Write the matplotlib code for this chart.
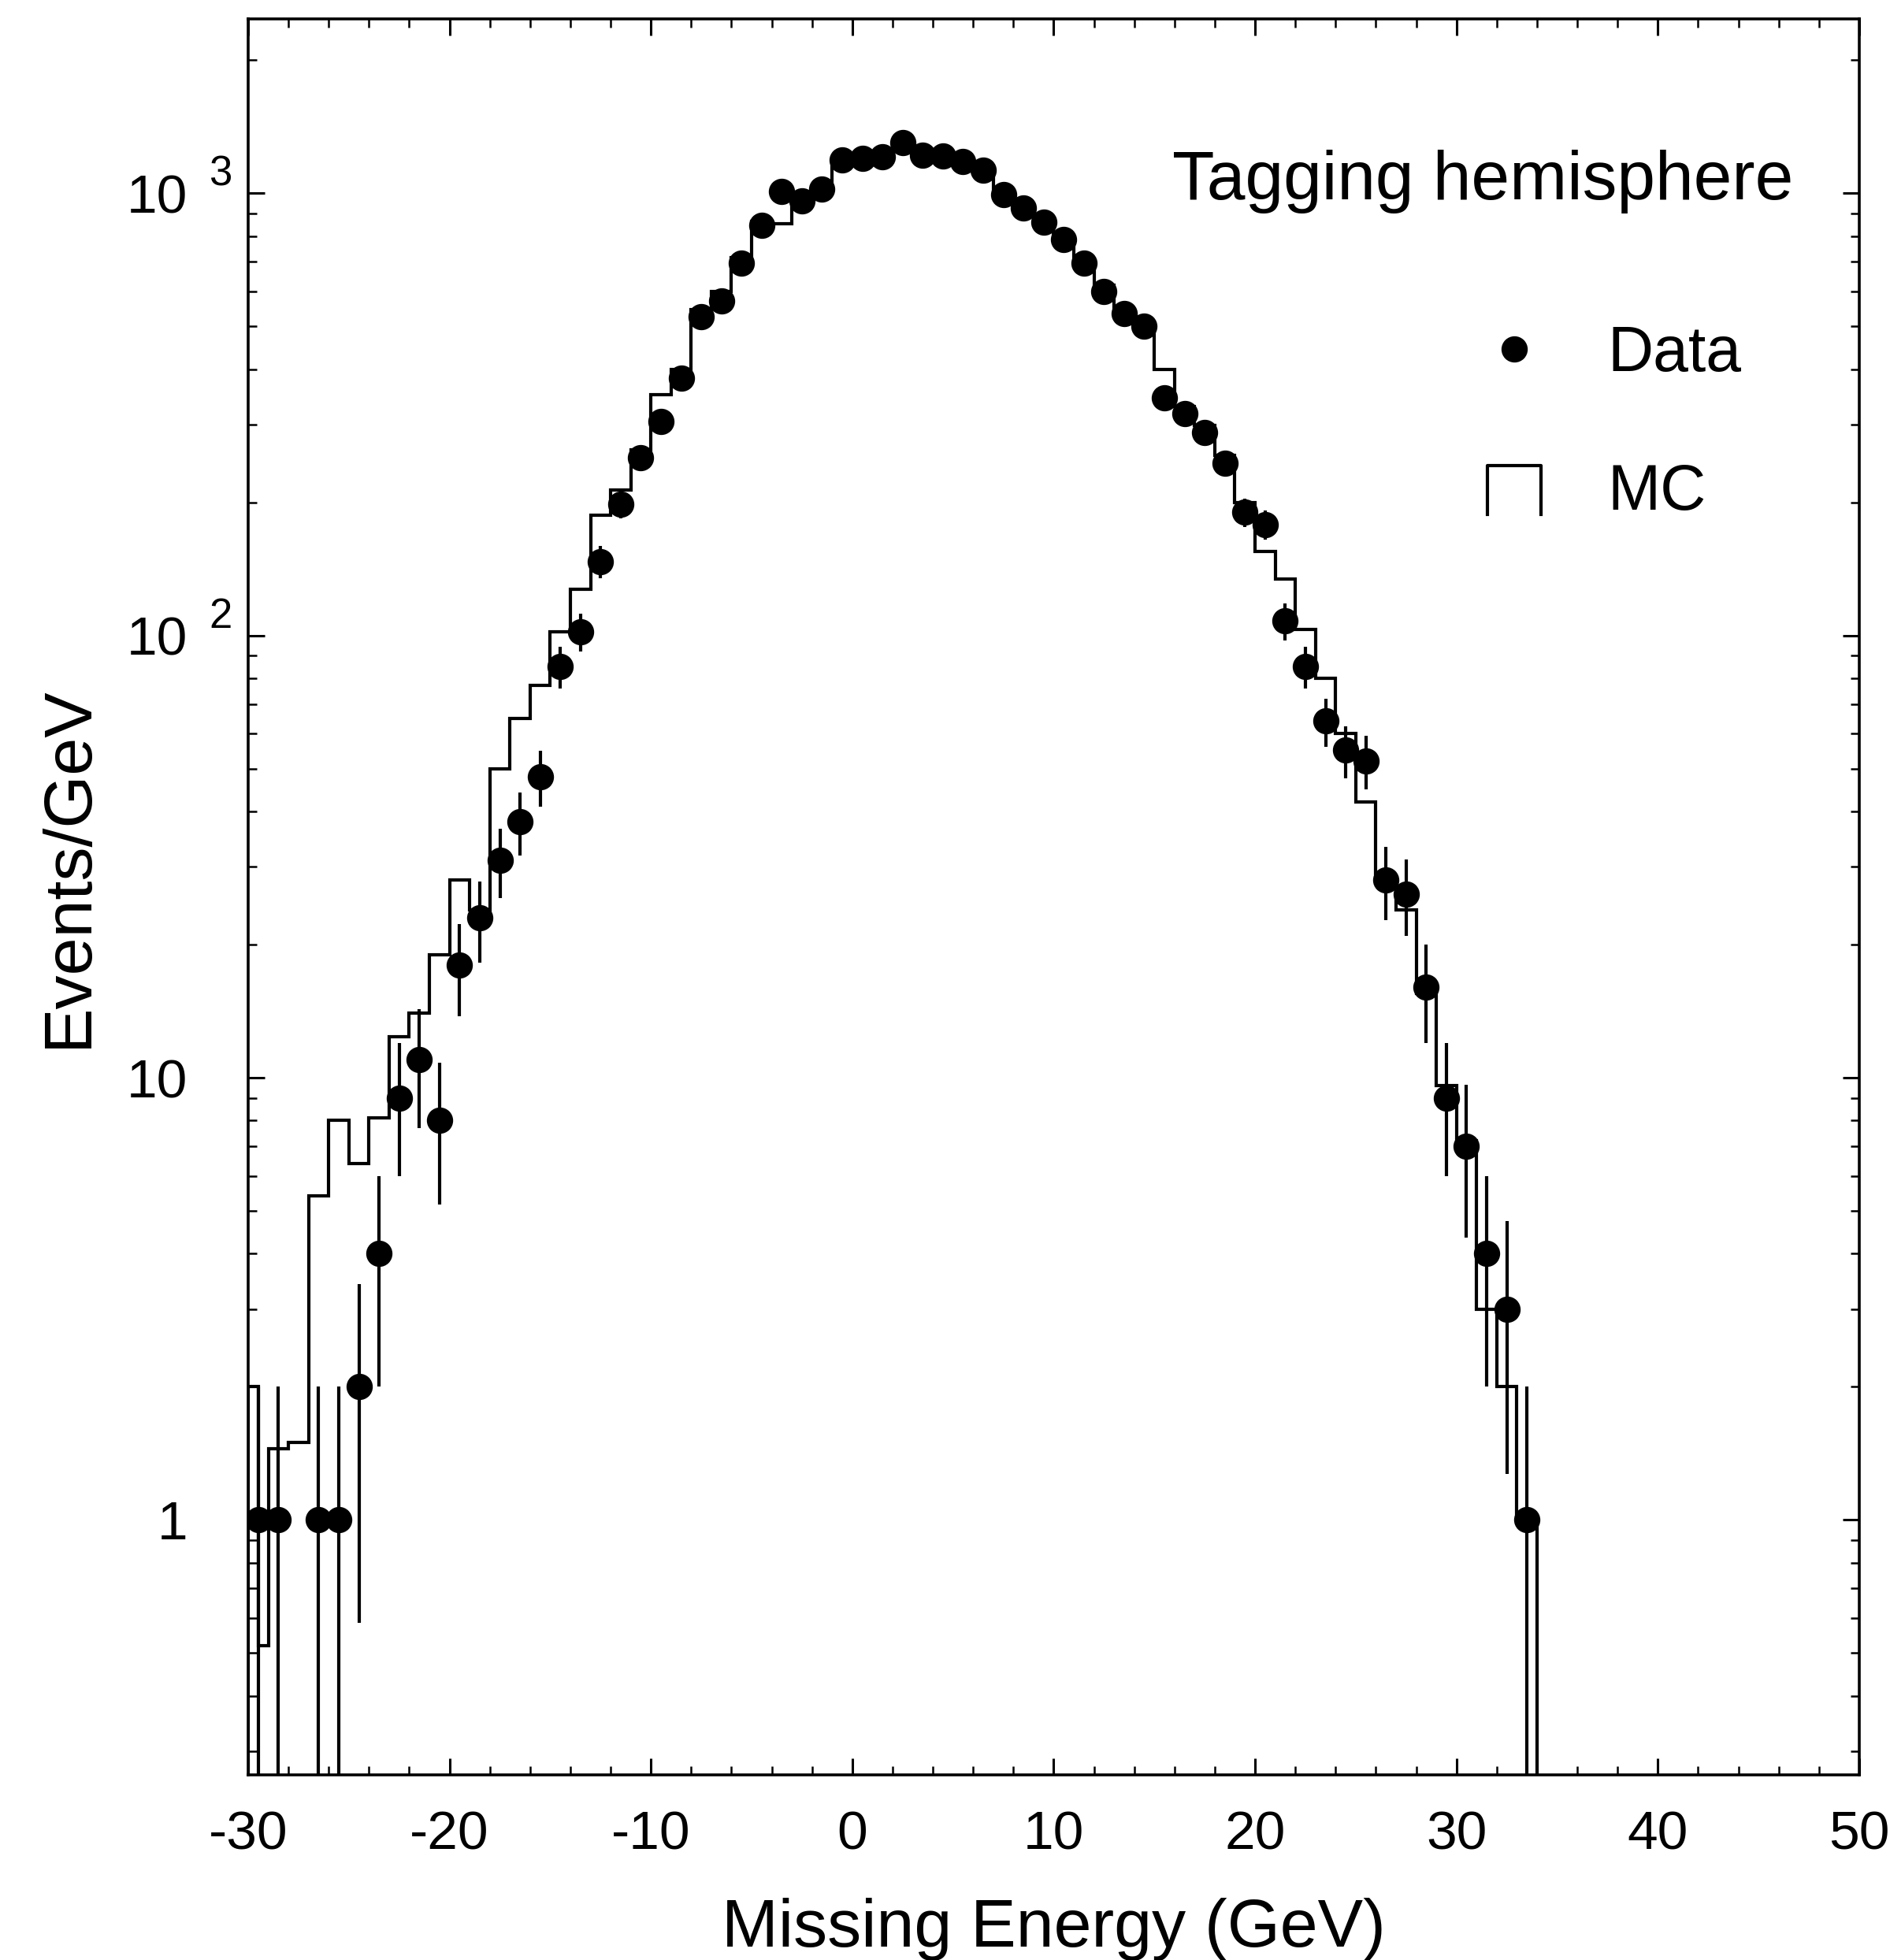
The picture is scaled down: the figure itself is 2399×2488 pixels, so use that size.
import numpy as np
import matplotlib
matplotlib.use("Agg")
import matplotlib.pyplot as plt
from matplotlib.lines import Line2D
from matplotlib.legend_handler import HandlerBase
from matplotlib.ticker import MultipleLocator, LogLocator, NullFormatter, FixedLocator

plt.rcParams['font.family'] = ['Liberation Sans', 'DejaVu Sans']
plt.rcParams['axes.unicode_minus'] = False

# data: events per 1 GeV bin, bin centres at k+0.5 from -29.5 to 33.5
data_edges = np.arange(-30, 35, 1.0)
data_vals = np.array([
    1, 1, 0, 1, 1, 2, 4, 9, 11, 8,
    18, 23, 31, 38, 48, 85, 102, 147, 198, 252,
    305, 382, 525, 570, 695, 845, 1010, 960, 1020, 1190,
    1200, 1210, 1300, 1220, 1215, 1180, 1130, 995, 925, 860,
    785, 695, 600, 535, 500, 345, 318, 288, 245, 190,
    178, 108, 85, 64, 55, 52, 28, 26, 16, 9,
    7, 4, 3, 1], dtype=float)

# MC histogram (first GeV split in two half bins)
mc_edges = np.array([-30, -29.5] + list(range(-29, 35)), dtype=float)
mc_vals = np.array([
    2.0, 0.52, 1.45, 1.5, 5.4, 8.0, 6.4, 8.1, 12.4, 14,
    19, 28, 24, 50, 65, 77, 102, 127, 187, 213,
    263, 350, 400, 545, 600, 715, 865, 855, 940, 1025,
    1180, 1190, 1210, 1300, 1230, 1220, 1190, 1130, 1020, 945,
    870, 795, 700, 620, 545, 505, 400, 330, 298, 255,
    200, 155, 134, 103, 80, 60, 42, 28, 24, 15.5,
    9.6, 7.2, 3.0, 2.0, 1.0])

ytick_vals = [1, 10, 100, 1000]
ytick_labels = ['1', '10', '10', '10']
ytick_sups = {100: '2', 1000: '3'}


class StepHandler(HandlerBase):
    # draws the open-bottom box used as MC legend symbol
    def create_artists(self, legend, orig_handle, xdescent, ydescent,
                       width, height, fontsize, trans):
        x0, x1 = -xdescent, width - xdescent
        y0, y1 = -ydescent - 0.1 * height, height * 1.0 - ydescent
        line = Line2D([x0, x0, x1, x1], [y0, y1, y1, y0], color='k',
                      lw=orig_handle.get_linewidth(), transform=trans)
        return [line]


fig = plt.figure(figsize=(23.99, 24.88), dpi=100)
ax = fig.add_axes([0.1313, 0.0944, 0.8524, 0.896])

ax.stairs(mc_vals, mc_edges, baseline=1e-3, color='k', lw=3.0)

centres = 0.5 * (data_edges[:-1] + data_edges[1:])
keep = data_vals > 0
ax.errorbar(centres[keep], data_vals[keep], yerr=np.sqrt(data_vals[keep]),
            fmt='o', color='k', ms=23, elinewidth=3.0, capsize=0)

ax.set_yscale('log')
ax.set_xlim(-30, 50)
ax.set_ylim(0.265, 2480)

ax.xaxis.set_major_locator(MultipleLocator(10))
ax.xaxis.set_minor_locator(MultipleLocator(2))
ax.yaxis.set_major_locator(FixedLocator(ytick_vals))
ax.set_yticklabels(ytick_labels)
ax.yaxis.set_minor_locator(LogLocator(base=10, subs=np.arange(2, 10)))
ax.yaxis.set_minor_formatter(NullFormatter())

ax.tick_params(which='both', direction='in', top=True, right=True)
ax.tick_params(which='major', length=15, width=2.2, labelsize=50)
ax.tick_params(axis='x', which='major', pad=32)
ax.tick_params(axis='y', which='major', pad=55)
ax.tick_params(which='minor', length=8, width=1.8)
for sp in ax.spines.values():
    sp.set_linewidth(2.6)

for val, sup in ytick_sups.items():
    ax.annotate(sup, xy=(0, val), xycoords=ax.get_yaxis_transform(),
                xytext=(-15, 7), textcoords='offset points',
                fontsize=38, ha='right', va='baseline')

ax.set_xlabel('Missing Energy (GeV)', fontsize=62, labelpad=34)
ax.set_ylabel('Events/GeV', fontsize=62, labelpad=24)
ax.yaxis.label.set_y(0.517)

ax.text(0.5736, 0.897, 'Tagging hemisphere', transform=ax.transAxes,
        fontsize=63, va='baseline', ha='left')

h_data = Line2D([], [], marker='o', ms=23, color='k', ls='none')
h_mc = Line2D([], [], color='k', lw=3.0)
ax.legend([h_data, h_mc], ['Data', 'MC'], loc='upper left',
          bbox_to_anchor=(0.769, 0.826), frameon=False, fontsize=58,
          handlelength=0.85, handletextpad=1.05, labelspacing=1.25,
          borderpad=0, borderaxespad=0,
          handler_map={h_mc: StepHandler()})

fig.savefig('out.png', dpi=100)
